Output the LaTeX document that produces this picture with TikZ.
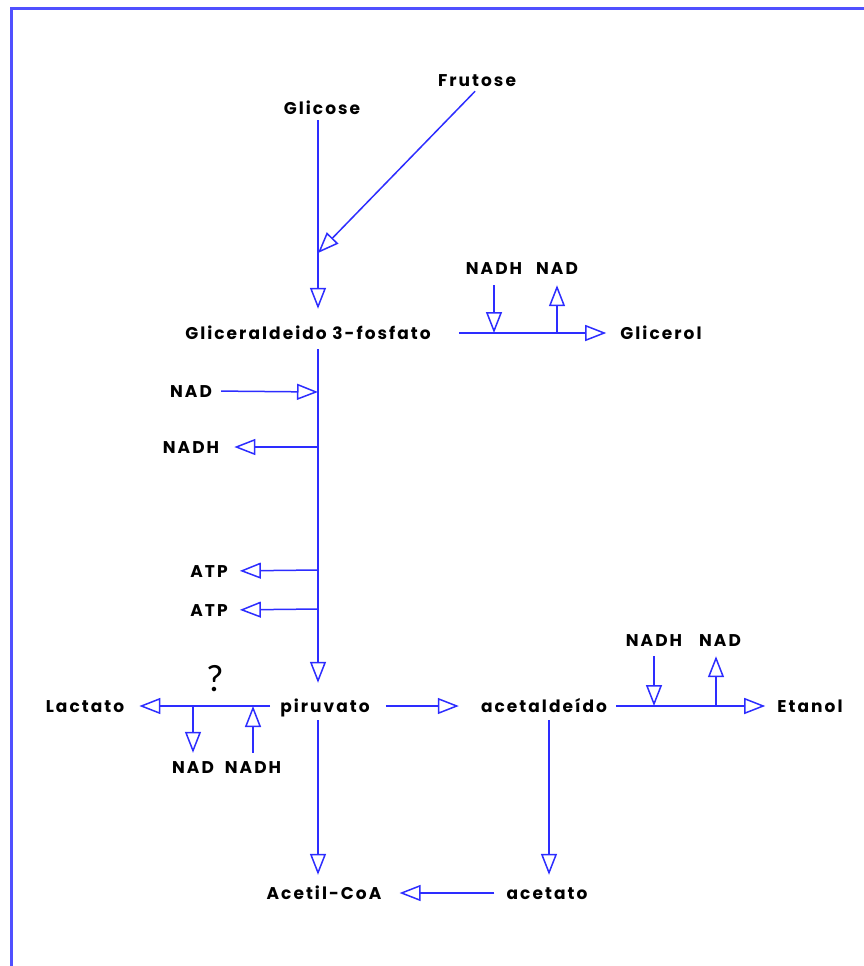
\documentclass[tikz,border=0pt]{standalone}
\usepackage{fontspec}
\newfontfamily\lblfont{Poppins}[LetterSpace=12]
\newfontfamily\qfont{Lato}
\usetikzlibrary{arrows.meta}
\definecolor{lineblue}{RGB}{45,45,255}
\definecolor{borderblue}{RGB}{80,80,255}
\begin{document}
\begin{tikzpicture}[x=1pt,y=-1pt,
  lbl/.style={inner sep=0pt, text height=12pt, text depth=0pt,
    font=\lblfont\bfseries\fontsize{17pt}{17pt}\selectfont},
  flow/.style={draw=lineblue, line width=1.5pt,
    -{Triangle[open, length=21pt, width=16pt, line width=1.5pt]}},
  frame/.style={draw=borderblue, line width=3pt}]
\useasboundingbox (0,0) rectangle (864,966);
\draw[frame] (11,966) -- (11,9) -- (864,9);

% labels
\node[lbl] (frutose) at (477,80) {Frutose};
\node[lbl] (glicose) at (322,108) {Glicose};
\node[lbl] (g3p) at (308,333) {Gliceraldeido 3-fosfato};
\node[lbl] (nadh1) at (494,268) {NADH};
\node[lbl] (nad1) at (557,268) {NAD};
\node[lbl] (glicerol) at (661,333) {Glicerol};
\node[lbl] (nad2) at (191,391) {NAD};
\node[lbl] (nadh2) at (191,447) {NADH};
\node[lbl] (atp1) at (209,571) {ATP};
\node[lbl] (atp2) at (209,610) {ATP};
\node[lbl] (piruvato) at (325,706) {piruvato};
\node[lbl] (lactato) at (85,706) {Lactato};
\node[lbl] (nad3) at (193,767) {NAD};
\node[lbl] (nadh3) at (253,767) {NADH};
\node[inner sep=0pt, font=\qfont\fontsize{36pt}{36pt}\selectfont] (q) at (215,679) {?};
\node[lbl] (acetaldeido) at (544,706) {acetaldeído};
\node[lbl] (nadh4) at (654,640) {NADH};
\node[lbl] (nad4) at (720,640) {NAD};
\node[lbl] (etanol) at (810,706) {Etanol};
\node[lbl] (acetilcoa) at (324,893) {Acetil-CoA};
\node[lbl] (acetato) at (547,893) {acetato};

% junction points
\coordinate (xmain) at (318,0);
\coordinate (xace) at (549,0);
\coordinate (xfru) at (480,0);
\coordinate (jfru) at (318,253);
\coordinate (jnadh1) at (494,333);
\coordinate (jnad1) at (557,333);
\coordinate (jnad2) at (318,392);
\coordinate (jnadh2) at (318,447);
\coordinate (jatp1) at (318,570);
\coordinate (jatp2) at (318,609);
\coordinate (jnad3) at (193,706);
\coordinate (jnadh3) at (253,706);
\coordinate (jnadh4) at (654,706);
\coordinate (jnad4) at (716,706);

% connectors
\draw[flow, shorten <=6pt, shorten >=18pt] (glicose.south -| xmain) -- (g3p.north -| xmain);
\draw[flow, shorten <=7pt] (frutose.south -| xfru) -- (jfru);
\draw[flow, shorten <=28pt, shorten >=14pt] (g3p.east) -- (g3p.east -| glicerol.west);
\draw[flow, shorten <=11pt] (nadh1.south) -- (jnadh1);
\draw[flow, shorten >=11pt] (jnad1) -- (nad1.south);
\draw[flow, shorten <=10pt, shorten >=17pt] (g3p.south -| xmain) -- (piruvato.north -| xmain);
\draw[flow, shorten <=9pt] (nad2.east) -- (jnad2);
\draw[flow, shorten >=15pt] (jnadh2) -- (nadh2.east);
\draw[flow, shorten >=12pt] (jatp1) -- (atp1.east);
\draw[flow, shorten >=12pt] (jatp2) -- (atp2.east);
\draw[flow, shorten <=10pt, shorten >=15pt] (piruvato.west) -- (lactato.east);
\draw[flow, shorten >=8pt] (jnad3) -- (nad3.north);
\draw[flow, shorten <=8pt] (nadh3.north) -- (jnadh3);
\draw[flow, shorten <=16pt, shorten >=22pt] (piruvato.east) -- (acetaldeido.west);
\draw[flow, shorten <=9pt, shorten >=12pt] (acetaldeido.east) -- (etanol.west);
\draw[flow, shorten <=10pt] (nadh4.south) -- (jnadh4);
\draw[flow, shorten >=10pt] (jnad4) -- (jnad4 |- nad4.south);
\draw[flow, shorten <=8pt, shorten >=12pt] (piruvato.south -| xmain) -- (acetilcoa.north -| xmain);
\draw[flow, shorten <=8pt, shorten >=12pt] (acetaldeido.south -| xace) -- (acetato.north -| xace);
\draw[flow, shorten <=12pt, shorten >=18pt] (acetato.west) -- (acetilcoa.east);
\end{tikzpicture}
\end{document}
